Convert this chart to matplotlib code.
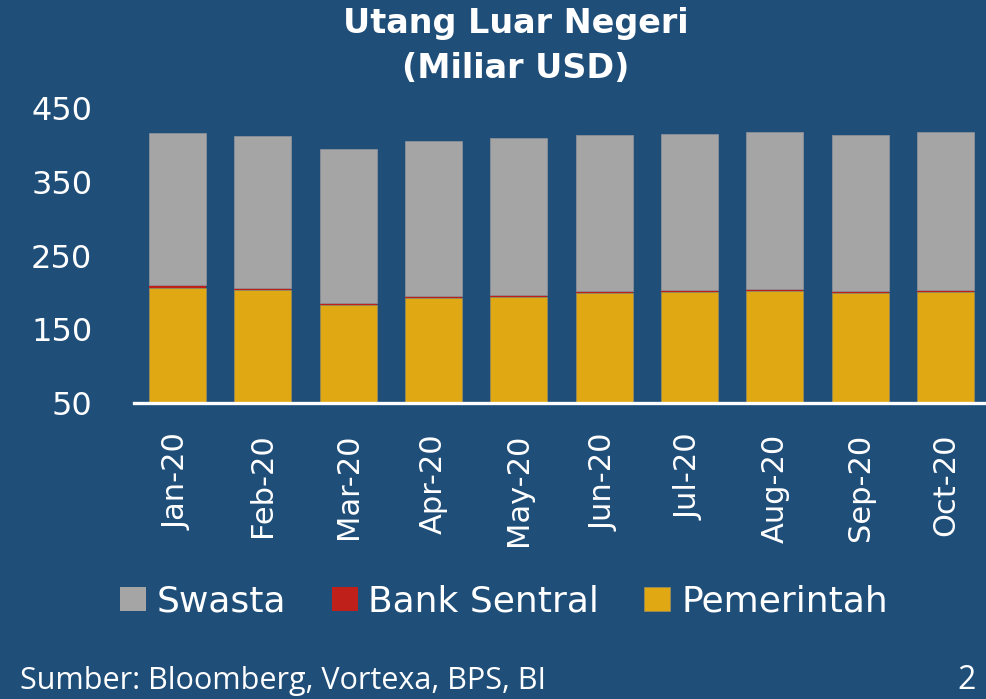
import numpy as np
import matplotlib
matplotlib.use("Agg")
import matplotlib.pyplot as plt
from matplotlib.patches import Patch

months = ["Jan-20", "Feb-20", "Mar-20", "Apr-20", "May-20",
          "Jun-20", "Jul-20", "Aug-20", "Sep-20", "Oct-20"]
pemerintah = [206.4, 202.7, 182.4, 191.9, 193.2, 198.7, 200.0, 201.2, 198.7, 200.0]
bank_sentral = [3.0, 3.0, 3.0, 3.0, 3.0, 3.0, 3.0, 3.8, 3.0, 3.0]
total = [415.7, 412.4, 394.0, 405.3, 408.9, 413.4, 414.3, 417.9, 413.4, 417.9]
swasta = [t - p - b for t, p, b in zip(total, pemerintah, bank_sentral)]

bg = "#1f4e79"
c_swasta = "#a5a5a5"
c_bank = "#c0201a"
c_pem = "#e0a813"

W, H = 986, 699
fig = plt.figure(figsize=(W / 100, H / 100), dpi=100, facecolor=bg)
ax = fig.add_axes([134 / W, 1 - 403 / H, (W - 134) / W, (403 - 108) / H])
ax.set_facecolor(bg)

x = np.arange(len(months))
bw = 0.67
ax.bar(x, pemerintah, bw, color=c_pem, edgecolor="#9a8a5a", linewidth=0.6, zorder=2)
ax.bar(x, bank_sentral, bw, bottom=pemerintah, color=c_bank, linewidth=0, zorder=2)
bottom2 = [p + b for p, b in zip(pemerintah, bank_sentral)]
ax.bar(x, swasta, bw, bottom=bottom2, color=c_swasta, edgecolor="#8a8f99", linewidth=0.6, zorder=2)

ax.set_xlim(-0.509, 9.475)
ax.set_ylim(50, 450)
ax.set_yticks([50, 150, 250, 350, 450])
ax.set_xticks(x)
ax.set_xticklabels(months, rotation=90, fontsize=22, color="white", family="DejaVu Sans")
ax.tick_params(axis="x", length=0, pad=22)
ax.tick_params(axis="y", length=0, pad=30, labelsize=23, labelcolor="white")

for s in ["top", "right", "left"]:
    ax.spines[s].set_visible(False)
ax.spines["bottom"].set_color("white")
ax.spines["bottom"].set_linewidth(2.4)
ax.spines["bottom"].set_zorder(3)

fig.text(516 / W, 1 - 33 / H, "Utang Luar Negeri", ha="center", va="baseline",
         fontsize=24, fontweight="bold", color="white")
fig.text(516 / W, 1 - 78 / H, "(Miliar USD)", ha="center", va="baseline",
         fontsize=24, fontweight="bold", color="white")

handles = [Patch(facecolor=c_swasta, edgecolor="none", label="Swasta"),
           Patch(facecolor=c_bank, edgecolor="none", label="Bank Sentral"),
           Patch(facecolor=c_pem, edgecolor="#9a8a5a", linewidth=0.6, label="Pemerintah")]
leg = fig.legend(handles=handles, loc="center", bbox_to_anchor=(504 / W, 1 - 602 / H),
                 ncol=3, frameon=False, fontsize=26, handlelength=0.72, handleheight=0.64,
                 handletextpad=0.3, columnspacing=1.25, borderaxespad=0)
for t in leg.get_texts():
    t.set_color("white")

fig.text(20 / W, 1 - 689 / H, "Sumber: Bloomberg, Vortexa, BPS, BI", ha="left", va="baseline",
         fontsize=22, color="white", family="Open Sans")
fig.text(976 / W, 1 - 689 / H, "2", ha="right", va="baseline",
         fontsize=23, color="white", family="Open Sans")

fig.savefig("out.png", dpi=100, facecolor=bg)
